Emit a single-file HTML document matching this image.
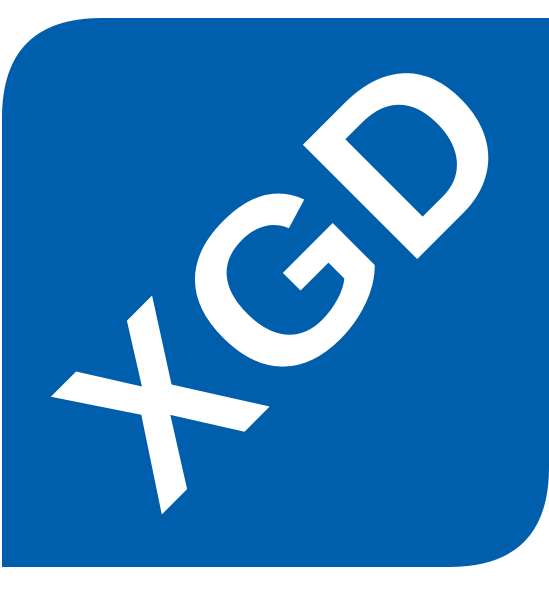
<!DOCTYPE html>
<html>
<head>
<meta charset="utf-8">
<style>
  html,body{margin:0;padding:0;background:#fff;}
  svg{display:block;}
</style>
</head>
<body>
<svg width="549" height="591" viewBox="0 0 549 591" xmlns="http://www.w3.org/2000/svg">
  <path
        d="M2,118 Q2,18 102,18 L549,18 L549,467 Q549,567 449,567 L2,567 Z"
        fill="#005fad"/>
  <text
        x="287" y="274" text-anchor="middle" dominant-baseline="central"
        transform="rotate(-45 287 274)"
        font-family="Liberation Sans, sans-serif" font-weight="bold"
        font-size="235" fill="#ffffff" letter-spacing="4">XGD</text>
</svg>
</body>
</html>
